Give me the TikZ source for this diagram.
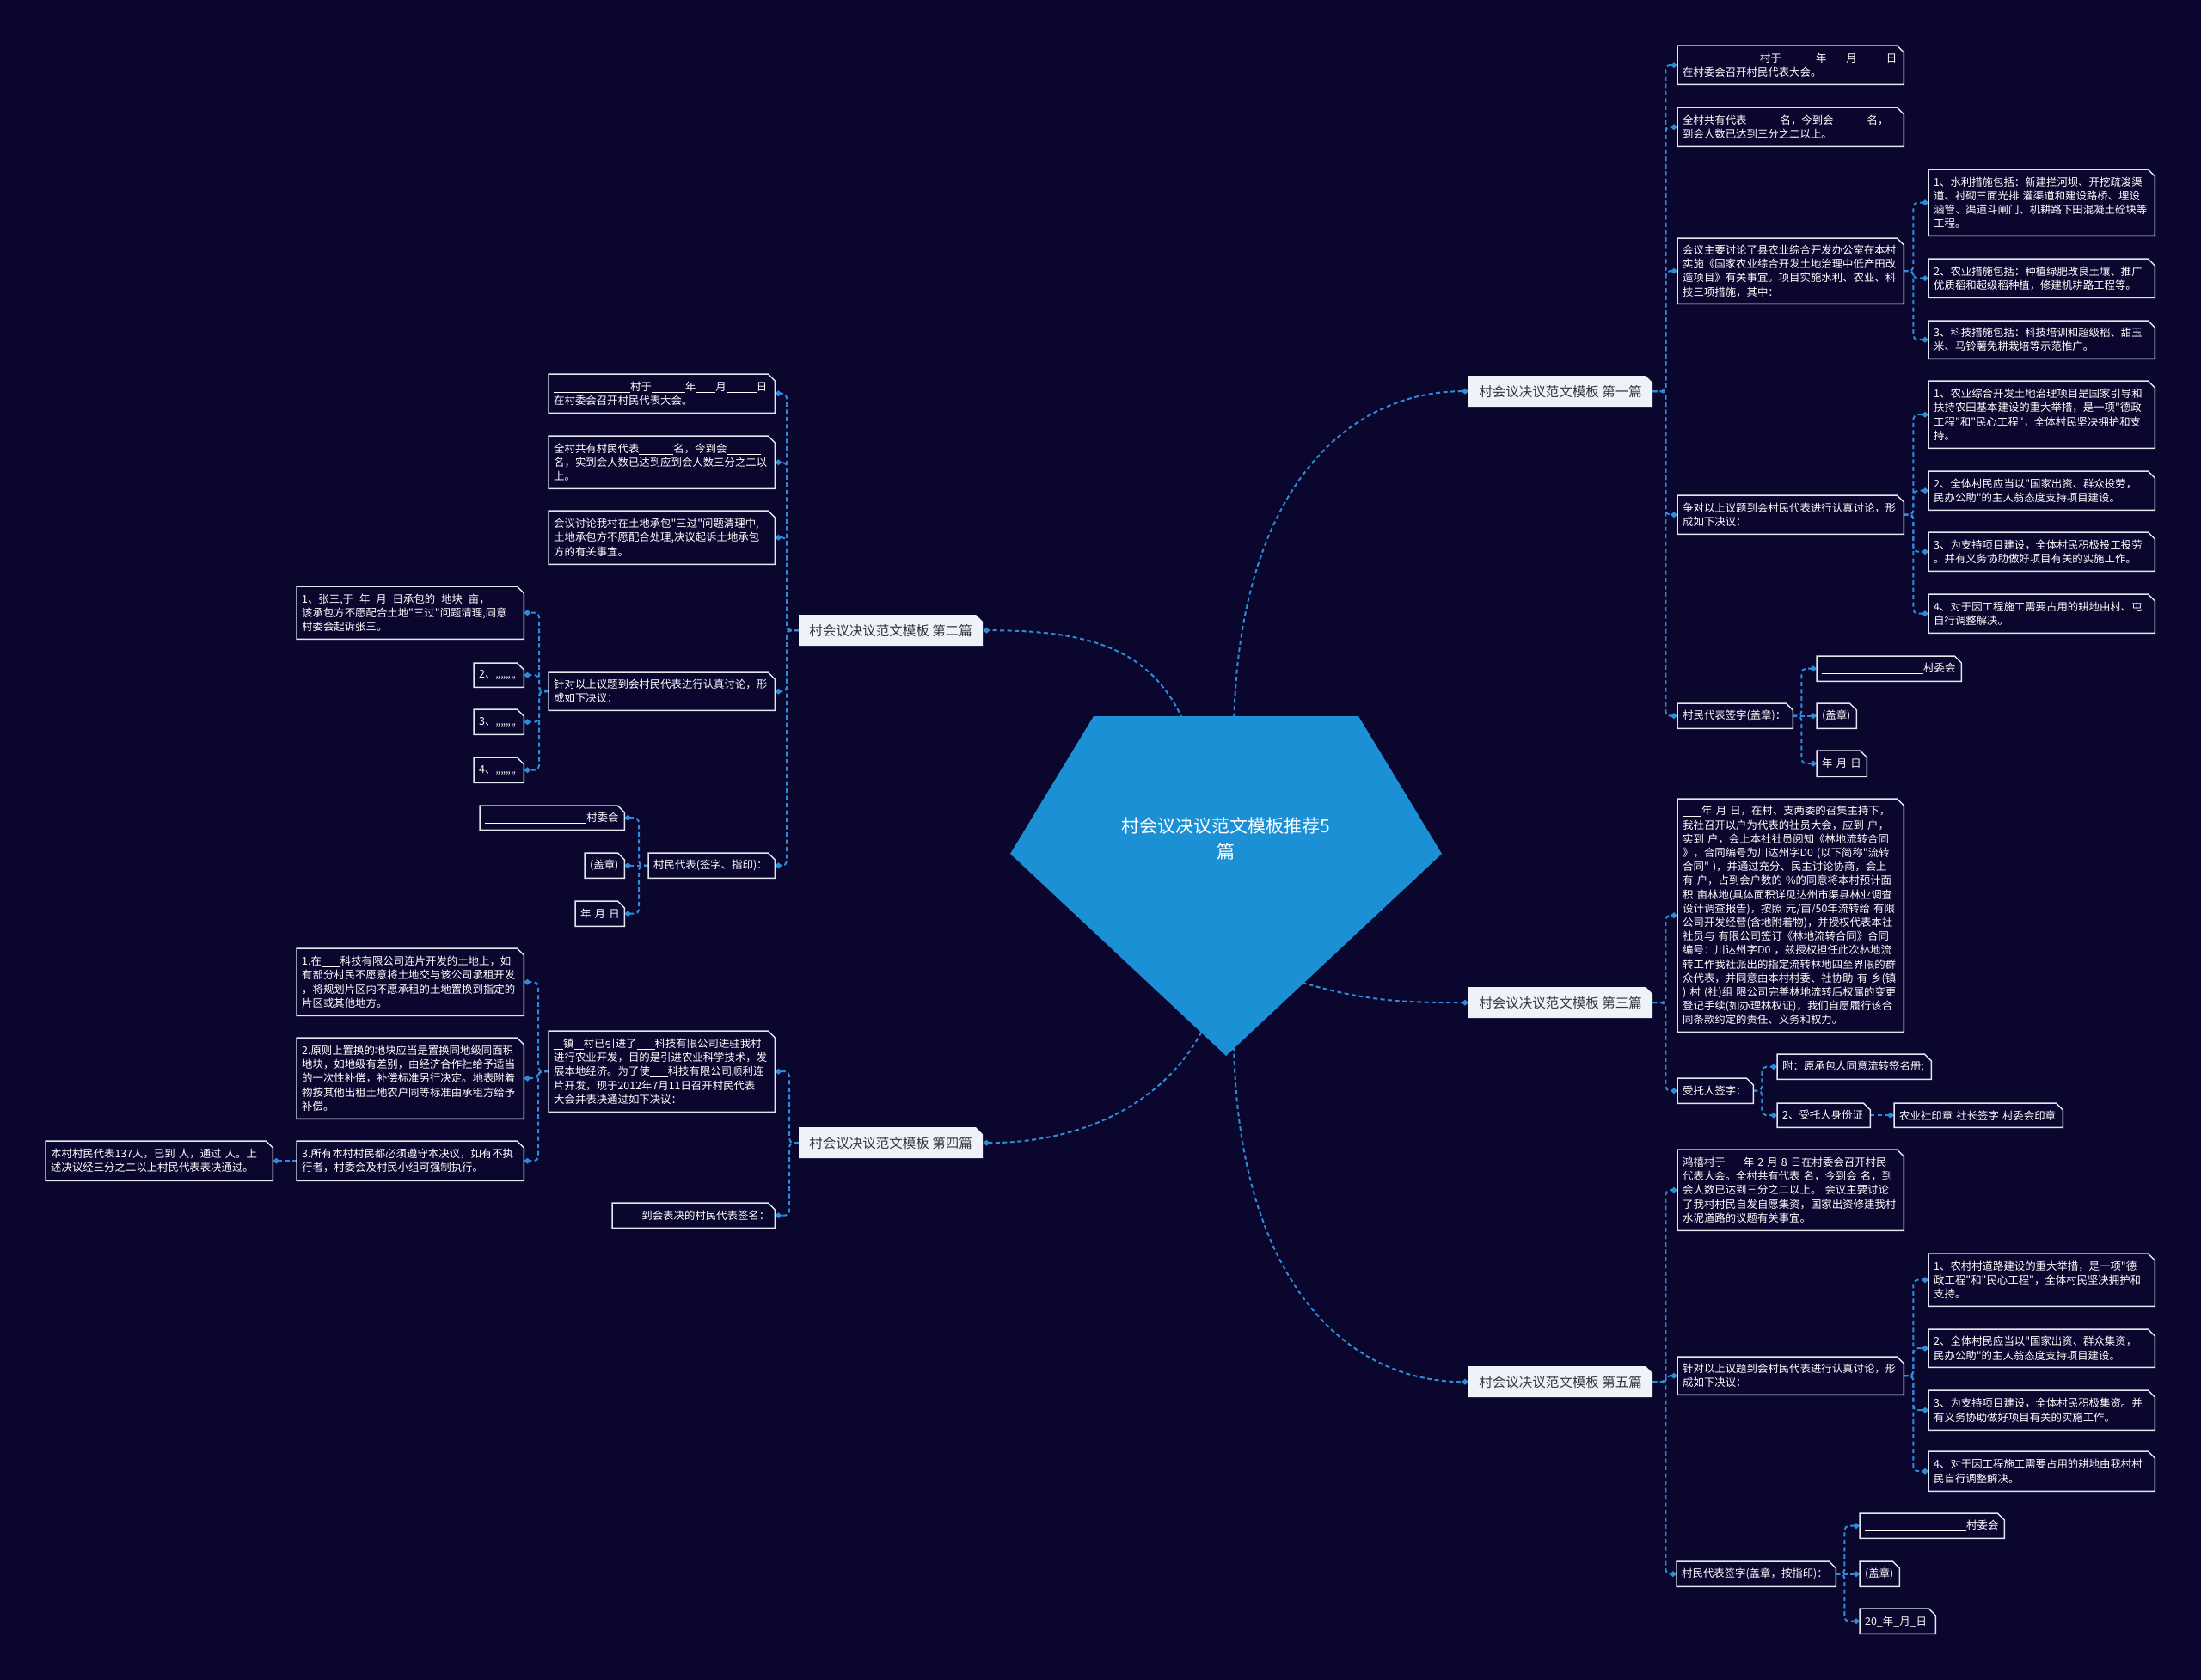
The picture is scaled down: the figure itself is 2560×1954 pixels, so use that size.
\documentclass[tikz,border=0pt]{standalone}
\usepackage{fontspec}
\newfontfamily\cjk{Noto Sans CJK SC}
\usetikzlibrary{arrows.meta,backgrounds}
\definecolor{bgc}{RGB}{10,6,46}
\definecolor{connc}{RGB}{45,140,215}
\definecolor{boxc}{RGB}{228,231,240}
\definecolor{mainfill}{RGB}{238,243,250}
\definecolor{maintext}{RGB}{55,55,60}
\definecolor{penta}{RGB}{27,144,212}
\newcommand\blk[1]{\rule[-2pt]{#1pt}{0.8pt}}
\newcommand\mybox[6]{%
  \pgfmathsetmacro\bxw{#4-#2}%
  \pgfmathsetmacro\bxh{#5-#3}%
  \pgfmathsetmacro\bxt{#4-#2-12}%
  \node[cbox,minimum width=\bxw pt,minimum height=\bxh pt,text width=\bxt pt,anchor=north west] (#1) at (#2,#3) {#6};
  \draw[boxline] (#1.north west) -- ([xshift=-8pt]#1.north east) -- ([yshift=-8pt]#1.north east) -- (#1.south east) -- (#1.south west) -- cycle;
}
\newcommand\mymain[4]{%
  \fill[mainfill] (#2,#3) -- (#2+206,#3) -- (#2+214,#3+8) -- (#2+214,#3+36) -- (#2,#3+36) -- cycle;
  \node[mainst] (#1) at (#2,#3) {#4};
}
\begin{document}
\begin{tikzpicture}[x=1pt,y=-1pt,
 cbox/.style={draw=none,text=white,font=\cjk\fontsize{12.4}{16.2}\selectfont,align=left,inner xsep=6pt,inner ysep=0pt},
 boxline/.style={draw=boxc,line width=1.5pt,line join=miter},
 mainst/.style={text=maintext,font=\cjk\fontsize{15.5}{18}\selectfont,inner sep=0pt,minimum width=214pt,minimum height=36pt,anchor=north west},
 conn/.style={draw=connc,line width=2pt,dash pattern=on 5pt off 3.5pt,rounded corners=5pt,-{Diamond[length=8pt,width=7pt]}},
 straightconn/.style={draw=connc,line width=2pt,dash pattern=on 5pt off 3.5pt,-{Diamond[length=8pt,width=7pt]}}
]
\useasboundingbox (0,0) rectangle (2560,1954);
\begin{pgfonlayer}{background}
\fill[bgc] (0,0) rectangle (2560,1954);
\end{pgfonlayer}

% centre
\fill[penta] (1272,833) -- (1580,833) -- (1677,993) -- (1426,1228) -- (1175,993) -- cycle;
\node[font=\cjk\fontsize{21}{30}\selectfont,text=white,align=center] (ctr) at (1426,975) {村会议决议范文模板推荐5\\篇};
\coordinate (s1) at (1435,860);
\coordinate (s2) at (1385,860);
\coordinate (s3) at (1490,1135);
\coordinate (s4) at (1405,1185);
\coordinate (s5) at (1435,1200);

% main branches
\mymain{m1}{1708}{437}{村会议决议范文模板 第一篇}
\mymain{m2}{929}{715}{村会议决议范文模板 第二篇}
\mymain{m3}{1708}{1148}{村会议决议范文模板 第三篇}
\mymain{m4}{929}{1311}{村会议决议范文模板 第四篇}
\mymain{m5}{1708}{1589}{村会议决议范文模板 第五篇}

% ---- first
\mybox{R1a}{1951}{53}{2214}{98}{\blk{90}村于\blk{40}年\blk{23}月\blk{34}日\\在村委会召开村民代表大会。}
\mybox{R1b}{1951}{125}{2214}{170}{全村共有代表\blk{39}名，今到会\blk{39}名，\\到会人数已达到三分之二以上。}
\mybox{R1c}{1951}{277}{2214}{353}{会议主要讨论了县农业综合开发办公室在本村\\实施《国家农业综合开发土地治理中低产田改\\造项目》有关事宜。项目实施水利、农业、科\\技三项措施，其中：}
\mybox{R1c1}{2243}{197}{2506}{274}{1、水利措施包括：新建拦河坝、开挖疏浚渠\\道、衬砌三面光排~灌渠道和建设路桥、埋设\\涵管、渠道斗闸门、机耕路下田混凝土砼块等\\工程。}
\mybox{R1c2}{2243}{301}{2506}{346}{2、农业措施包括：种植绿肥改良土壤、推广\\优质稻和超级稻种植，修建机耕路工程等。}
\mybox{R1c3}{2243}{373}{2506}{417}{3、科技措施包括：科技培训和超级稻、甜玉\\米、马铃薯免耕栽培等示范推广。}
\mybox{R1d}{1951}{576}{2214}{621}{争对以上议题到会村民代表进行认真讨论，形\\成如下决议：}
\mybox{R1d1}{2243}{443}{2506}{521}{1、农业综合开发土地治理项目是国家引导和\\扶持农田基本建设的重大举措，是一项"德政\\工程"和"民心工程"，全体村民坚决拥护和支\\持。}
\mybox{R1d2}{2243}{548}{2506}{593}{2、全体村民应当以"国家出资、群众投劳，\\民办公助"的主人翁态度支持项目建设。}
\mybox{R1d3}{2243}{619}{2506}{664}{3、为支持项目建设，全体村民积极投工投劳\\。并有义务协助做好项目有关的实施工作。}
\mybox{R1d4}{2243}{691}{2506}{736}{4、对于因工程施工需要占用的耕地由村、屯\\自行调整解决。}
\mybox{R1e}{1951}{818}{2085}{847}{村民代表签字(盖章)：}
\mybox{R1e1}{2113}{763}{2281}{792}{\blk{118}村委会}
\mybox{R1e2}{2113}{818}{2159}{847}{(盖章)}
\mybox{R1e3}{2113}{873}{2171}{903}{年~月~日}

% ---- third
\mybox{R3a}{1951}{929}{2214}{1200}{\blk{22}年~月~日，在村、支两委的召集主持下，\\我社召开以户为代表的社员大会，应到~户，\\实到~户，会上本社社员阅知《林地流转合同\\》，合同编号为川达州字D0~(以下简称"流转\\合同"~)，并通过充分、民主讨论协商，会上\\有~户，占到会户数的~\%的同意将本村预计面\\积~亩林地(具体面积详见达州市渠县林业调查\\设计调查报告)，按照~元/亩/50年流转给~有限\\公司开发经营(含地附着物)，并授权代表本社\\社员与~有限公司签订《林地流转合同》合同\\编号：川达州字D0~，兹授权担任此次林地流\\转工作我社派出的指定流转林地四至界限的群\\众代表，并同意由本村村委、社协助~有~乡(镇\\)~村~(社)组~限公司完善林地流转后权属的变更\\登记手续(如办理林权证)，我们自愿履行该合\\同条款约定的责任、义务和权力。}
\mybox{R3b}{1951}{1254}{2039}{1283}{受托人签字：}
\mybox{R3b1}{2067}{1226}{2246}{1255}{附：原承包人同意流转签名册;}
\mybox{R3b2}{2067}{1283}{2175}{1311}{2、受托人身份证}
\mybox{R3b2a}{2203}{1283}{2399}{1311}{农业社印章~社长签字~村委会印章}

% ---- fifth
\mybox{R5a}{1951}{1337}{2214}{1431}{鸿禧村于\blk{21}年~2~月~8~日在村委会召开村民\\代表大会。全村共有代表~名，今到会~名，到\\会人数已达到三分之二以上。~会议主要讨论\\了我村村民自发自愿集资，国家出资修建我村\\水泥道路的议题有关事宜。}
\mybox{R5b}{1951}{1578}{2214}{1622}{针对以上议题到会村民代表进行认真讨论，形\\成如下决议：}
\mybox{R5b1}{2243}{1458}{2506}{1519}{1、农村村道路建设的重大举措，是一项"德\\政工程"和"民心工程"，全体村民坚决拥护和\\支持。}
\mybox{R5b2}{2243}{1546}{2506}{1590}{2、全体村民应当以"国家出资、群众集资，\\民办公助"的主人翁态度支持项目建设。}
\mybox{R5b3}{2243}{1617}{2506}{1663}{3、为支持项目建设，全体村民积极集资。并\\有义务协助做好项目有关的实施工作。}
\mybox{R5b4}{2243}{1688}{2506}{1734}{4、对于因工程施工需要占用的耕地由我村村\\民自行调整解决。}
\mybox{R5c}{1950}{1816}{2135}{1845}{村民代表签字(盖章，按指印)：}
\mybox{R5c1}{2163}{1760}{2331}{1789}{\blk{118}村委会}
\mybox{R5c2}{2163}{1816}{2209}{1845}{(盖章)}
\mybox{R5c3}{2163}{1871}{2251}{1900}{20\_年\_月\_日}

% ---- second
\mybox{L2a}{638}{435}{901}{480}{\blk{89}村于\blk{39}年\blk{23}月\blk{35}日\\在村委会召开村民代表大会。}
\mybox{L2b}{638}{507}{901}{568}{全村共有村民代表\blk{40}名，今到会\blk{40}\\名，实到会人数已达到应到会人数三分之二以\\上。}
\mybox{L2c}{638}{594}{901}{656}{会议讨论我村在土地承包"三过"问题清理中,\\土地承包方不愿配合处理,决议起诉土地承包\\方的有关事宜。}
\mybox{L2d}{638}{782}{901}{826}{针对以上议题到会村民代表进行认真讨论，形\\成如下决议：}
\mybox{L2d1}{345}{682}{609}{743}{1、张三,于\_年\_月\_日承包的\_地块\_亩，\\该承包方不愿配合土地"三过"问题清理,同意\\村委会起诉张三。}
\mybox{L2d2}{551}{771}{609}{799}{2、„„„„}
\mybox{L2d3}{551}{825}{609}{854}{3、„„„„}
\mybox{L2d4}{551}{881}{609}{910}{4、„„„„}
\mybox{L2e}{754}{992}{901}{1021}{村民代表(签字、指印)：}
\mybox{L2e1}{558}{937}{726}{965}{\blk{118}村委会}
\mybox{L2e2}{680}{992}{726}{1021}{(盖章)}
\mybox{L2e3}{669}{1048}{726}{1077}{年~月~日}

% ---- fourth
\mybox{L4a}{638}{1199}{901}{1293}{\blk{11}镇\blk{11}村已引进了\blk{21}科技有限公司进驻我村\\进行农业开发，目的是引进农业科学技术，发\\展本地经济。为了使\blk{21}科技有限公司顺利连\\片开发，现于2012年7月11日召开村民代表\\大会并表决通过如下决议：}
\mybox{L4a1}{345}{1103}{609}{1181}{1.在\blk{22}科技有限公司连片开发的土地上，如\\有部分村民不愿意将土地交与该公司承租开发\\，将规划片区内不愿承租的土地置换到指定的\\片区或其他地方。}
\mybox{L4a2}{345}{1207}{609}{1301}{2.原则上置换的地块应当是置换同地级同面积\\地块，如地级有差别，由经济合作社给予适当\\的一次性补偿，补偿标准另行决定。地表附着\\物按其他出租土地农户同等标准由承租方给予\\补偿。}
\mybox{L4a3}{345}{1327}{609}{1373}{3.所有本村村民都必须遵守本决议，如有不执\\行者，村委会及村民小组可强制执行。}
\mybox{L4a3a}{53}{1327}{317}{1373}{本村村民代表137人，已到~人，通过~人。上\\述决议经三分之二以上村民代表表决通过。}
\mybox{L4b}{712}{1399}{901}{1428}{\hspace*{\fill}到会表决的村民代表签名：}

% ---- connectors
\begin{pgfonlayer}{background}
\draw[conn] (s1) .. controls (1435,580) and (1560,455) .. (m1.west);
\draw[conn] (s2) .. controls (1350,760) and (1280,733) .. (m2.east);
\draw[conn] (s3) .. controls (1580,1165) and (1630,1166) .. (m3.west);
\draw[conn] (s4) .. controls (1365,1275) and (1270,1329) .. (m4.east);
\draw[conn] (s5) .. controls (1435,1480) and (1560,1607) .. (m5.west);

\foreach \c in {R1a,R1b,R1c,R1d,R1e} \draw[conn] (m1.east) -- ++(15,0) |- (\c.west);
\foreach \c in {R1c1,R1c2,R1c3} \draw[conn] (R1c.east) -- ++(11,0) |- (\c.west);
\foreach \c in {R1d1,R1d2,R1d3,R1d4} \draw[conn] (R1d.east) -- ++(11,0) |- (\c.west);
\foreach \c in {R1e1,R1e3} \draw[conn] (R1e.east) -- ++(10,0) |- (\c.west);
\draw[straightconn] (R1e.east) -- (R1e2.west);

\foreach \c in {R3a,R3b} \draw[conn] (m3.east) -- ++(15,0) |- (\c.west);
\foreach \c in {R3b1,R3b2} \draw[conn] (R3b.east) -- ++(10,0) |- (\c.west);
\draw[straightconn] (R3b2.east) -- (R3b2a.west);

\foreach \c in {R5a,R5b,R5c} \draw[conn] (m5.east) -- ++(15,0) |- (\c.west);
\foreach \c in {R5b1,R5b2,R5b3,R5b4} \draw[conn] (R5b.east) -- ++(11,0) |- (\c.west);
\foreach \c in {R5c1,R5c3} \draw[conn] (R5c.east) -- ++(10,0) |- (\c.west);
\draw[straightconn] (R5c.east) -- (R5c2.west);

\foreach \c in {L2a,L2b,L2c,L2d,L2e} \draw[conn] (m2.west) -- ++(-14,0) |- (\c.east);
\foreach \c in {L2d1,L2d2,L2d3,L2d4} \draw[conn] (L2d.west) -- ++(-11,0) |- (\c.east);
\foreach \c in {L2e1,L2e3} \draw[conn] (L2e.west) -- ++(-11,0) |- (\c.east);
\draw[straightconn] (L2e.west) -- (L2e2.east);

\foreach \c in {L4a,L4b} \draw[conn] (m4.west) -- ++(-11,0) |- (\c.east);
\foreach \c in {L4a1,L4a2,L4a3} \draw[conn] (L4a.west) -- ++(-12,0) |- (\c.east);
\draw[straightconn] (L4a3.west) -- (L4a3a.east);
\end{pgfonlayer}
\end{tikzpicture}
\end{document}
